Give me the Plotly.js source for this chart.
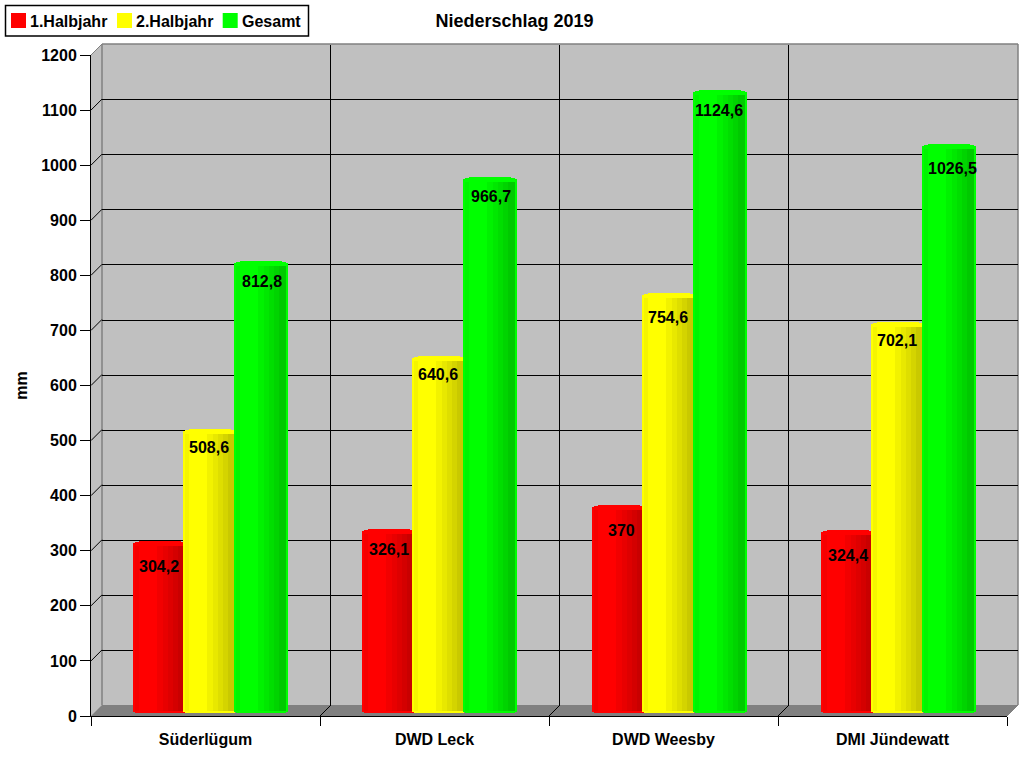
<!DOCTYPE html>
<html><head><meta charset="utf-8">
<script src="https://cdn.plot.ly/plotly-3.0.1.min.js"></script>
<style>html,body{margin:0;padding:0;background:#fff}#c{width:1024px;height:768px}</style>
</head><body><div id="c"></div>
<script>
const categories = ['Süderlügum','DWD Leck','DWD Weesby','DMI Jündewatt'];
const halbjahr1 = [304.2, 326.1, 370, 324.4];
const halbjahr2 = [508.6, 640.6, 754.6, 702.1];
const gesamt    = [812.8, 966.7, 1124.6, 1026.5];
const labels1 = ['304,2','326,1','370','324,4'];
const labels2 = ['508,6','640,6','754,6','702,1'];
const labels3 = ['812,8','966,7','1124,6','1026,5'];
const seriesNames = ['1.Halbjahr','2.Halbjahr','Gesamt'];
const yTicks = [0,100,200,300,400,500,600,700,800,900,1000,1100,1200];

const W = 1024, H = 768, FONT = '"Liberation Sans", Arial, sans-serif';
const px = x => x / W, py = y => 1 - y / H;
const CAT = 229, BARCAT = 229.33, UNIT = 1200 / 661;   // px per category, value per px
const series = [
  {name: seriesNames[0], v: halbjahr1, t: labels1, rgb: [255,0,0],   left: -77.5, lab: -50,  drop:[25,20,25,25], dx:[-2,-1,2,-1]},
  {name: seriesNames[1], v: halbjahr2, t: labels2, rgb: [255,255,0], left: -27.5, lab: -1.5, drop:[19,18,24,18], dx:[0,0,0,0]},
  {name: seriesNames[2], v: gesamt,    t: labels3, rgb: [0,255,0],   left: 23.5,  lab: 51.5, drop:[20,20,21,25], dx:[0,0,-2,2]}
];
const BARW = 54;
// cylinder shading strips: from px, to px, brightness
const strips = [[2,6,.96],[6,24,1],[24,30,.95],[30,35,.91],[35,40,.87],[40,45,.83],[45,52,.79]];
const col = (rgb,k) => `rgb(${rgb.map(c=>Math.round(c*k)).join(',')})`;

const traces = [];
traces.push({type:'scatter', mode:'none', x:categories, y:gesamt, xaxis:'x', yaxis:'y', showlegend:false, hoverinfo:'skip'});
const idx = categories.map((_,i)=>i);
function strip(s, from, to, color, topInset, botInset, first){
  const base = -botInset * UNIT;
  traces.push({
    type:'bar', xaxis:'x3', yaxis:'y3', x:idx, base:base,
    y:s.v.map(v => v - topInset*UNIT - base),
    offset:(s.left+from)/BARCAT, width:(to-from)/BARCAT,
    marker:{color:color, line:{width:0}}, name:s.name, showlegend:false,
    hovertemplate: first ? s.name+': %{customdata}<extra></extra>' : undefined,
    hoverinfo: first ? undefined : 'skip', customdata:s.t
  });
}
series.forEach(s=>{
  const bright = col(s.rgb,1);
  strip(s, 0, BARW, bright, 2, 3, true);         // rim
  strip(s, 2, BARW-2, bright, 1, 4, false);
  strip(s, 6, BARW-6, bright, 0, 3.8, false);    // cap centre
  strips.forEach(st => strip(s, st[0], st[1], col(s.rgb,st[2]), 5, 1.5, false));
});

const annotations = [];
series.forEach(s=>s.t.forEach((t,i)=>annotations.push({
  xref:'x3', yref:'y3', x:i + s.lab/BARCAT, xshift:s.dx[i], y:s.v[i], yshift:-s.drop[i], text:t, showarrow:false,
  font:{family:FONT,size:16,color:'#000',weight:700}, xanchor:'center', yanchor:'middle'
})));
// legend
[[28,0],[133.5,1],[240,2]].forEach(([x,i])=>annotations.push({
  xref:'paper', yref:'paper', x:px(x), y:py(21), text:seriesNames[i], showarrow:false,
  xanchor:'left', yanchor:'middle', font:{family:FONT,size:16,color:'#000',weight:700}
}));

const pathP = pts => 'M' + pts.map(p=>px(p[0])+','+py(p[1])).join('L') + 'Z';
const lineS = (x0,y0,x1,y1,c,w,layer) => ({type:'line',xref:'paper',yref:'paper',x0:px(x0),y0:py(y0),x1:px(x1),y1:py(y1),line:{color:c,width:w||1},layer:layer||'below'});
const fillS = (pts,c) => ({type:'path',xref:'paper',yref:'paper',path:pathP(pts),fillcolor:c,line:{width:0},layer:'below'});
const shapes = [
  fillS([[91,55],[102,44],[1018,44],[1018,705],[1007,716],[91,716]],'#c0c0c0'),
  fillS([[91,716],[102,705],[1018,705],[1007,716]],'#808080'),
  lineS(102,44,1018,44,'#808080',1.5), lineS(1018,44,1018,705,'#808080',1.5),
  lineS(102,44,102,705,'#808080',1.5), lineS(91,55,102,44,'#808080',1),
  lineS(1007,716,1018,705,'#808080',1)
];
yTicks.slice(1,-1).forEach(v=>{ const y = 716 - v/UNIT; shapes.push(lineS(91,y,102,y-11,'#000',1)); });
[1,2,3].forEach(i=>shapes.push(lineS(91+i*CAT,716,102+i*CAT,705,'#000',1)));
// legend box and swatches
shapes.push({type:'rect',xref:'paper',yref:'paper',x0:px(5.5),x1:px(308.5),y0:py(36),y1:py(5.5),line:{color:'#000',width:1.5},fillcolor:'#fff',layer:'above'});
[[11,series[0]],[117,series[1]],[222.7,series[2]]].forEach(([x,s])=>shapes.push({type:'rect',xref:'paper',yref:'paper',x0:px(x),x1:px(x+15),y0:py(28),y1:py(13),line:{width:0},fillcolor:col(s.rgb,1),layer:'above'}));

const layout = {
  width:W, height:H, margin:{l:0,r:0,t:0,b:0}, autosize:false, showlegend:false, hovermode:'closest',
  paper_bgcolor:'#fff', plot_bgcolor:'rgba(0,0,0,0)', barmode:'overlay', bargap:0,
  font:{family:FONT,color:'#000',size:16},
  title:{text:'Niederschlag 2019', x:px(514.5), xanchor:'center', xref:'paper', y:py(21), yanchor:'middle', yref:'paper', font:{family:FONT,size:18,color:'#000',weight:700}},
  xaxis:{domain:[px(91),px(1007)], anchor:'y', type:'category', categoryorder:'array', categoryarray:categories, range:[-.5,3.5], tickson:'boundaries',
         ticks:'outside', ticklen:9, tickcolor:'#000', tickwidth:1, showline:true, linecolor:'#000', linewidth:1, showgrid:false, ticklabelstandoff:9,
         tickfont:{family:FONT,size:16,color:'#000',weight:700}, fixedrange:true},
  yaxis:{domain:[py(716),py(55)], anchor:'x', range:[0,1200], tickvals:yTicks, ticktext:yTicks.map(String), ticks:'outside', ticklen:10, tickcolor:'#000', tickwidth:1,
         showline:true, linecolor:'#000', linewidth:1, showgrid:false, zeroline:false,
         tickfont:{family:FONT,size:16,color:'#000',weight:700}, fixedrange:true,
         title:{text:'mm', standoff:9, font:{family:FONT,size:16,color:'#000',weight:700}}},
  xaxis2:{domain:[px(101.5),px(1017.5)], anchor:'y2', range:[-.5,3.5], tickvals:[.5,1.5,2.5], showticklabels:false, ticks:'', showgrid:true, gridcolor:'#000', gridwidth:1, zeroline:false, showline:false, fixedrange:true},
  yaxis2:{domain:[py(705.6),py(44.6)], anchor:'x2', range:[0,1200], tickvals:yTicks.slice(1,-1), showticklabels:false, ticks:'', showgrid:true, gridcolor:'#000', gridwidth:1, zeroline:false, showline:false, fixedrange:true},
  xaxis3:{domain:[px(96),px(1013.3)], anchor:'y3', range:[-.5,3.5], showticklabels:false, ticks:'', showgrid:false, zeroline:false, showline:false, fixedrange:true},
  yaxis3:{domain:[py(716),py(55)], anchor:'x3', range:[-7*UNIT,1200-7*UNIT], showticklabels:false, ticks:'', showgrid:false, zeroline:false, showline:false, fixedrange:true},
  shapes:shapes, annotations:annotations
};
traces.push({type:'scatter',mode:'none',x:[-.5,3.5],y:[0,1200],xaxis:'x2',yaxis:'y2',showlegend:false,hoverinfo:'skip'});
Plotly.newPlot('c', traces, layout, {displayModeBar:false, staticPlot:false});
</script></body></html>
